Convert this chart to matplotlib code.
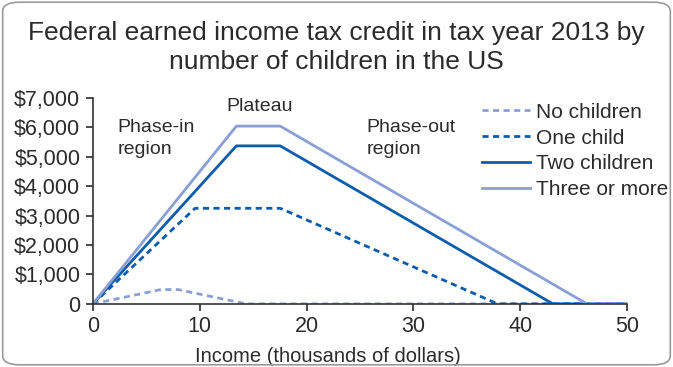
import matplotlib.pyplot as plt
from matplotlib.patches import FancyBboxPatch

plt.rcParams['font.family'] = ['Liberation Sans Narrow', 'Liberation Sans', 'DejaVu Sans']

# Datos (ingresos en miles de dólares, crédito en dólares)
x_none = [0, 6.37, 7.97, 14.34, 50]
y_none = [0, 487, 487, 0, 0]
x_one = [0, 9.56, 17.53, 37.87, 50]
y_one = [0, 3250, 3250, 0, 0]
x_two = [0, 13.43, 17.53, 43.04, 50]
y_two = [0, 5372, 5372, 0, 0]
x_three = [0, 13.43, 17.53, 46.23, 50]
y_three = [0, 6044, 6044, 0, 0]

yticks = [0, 1000, 2000, 3000, 4000, 5000, 6000, 7000]
ylabels = ["0", "$1,000", "$2,000", "$3,000", "$4,000", "$5,000", "$6,000", "$7,000"]
xticks = [0, 10, 20, 30, 40, 50]

light = "#8a9fd4"
dark = "#0b5cad"
text_c = "#2b2b2b"

fig = plt.figure(figsize=(6.73, 3.67), dpi=100)
ax = fig.add_axes([0.138, 0.172, 0.794, 0.561])

ax.plot(x_none, y_none, color=light, lw=2, ls=(0, (2.2, 1.6)), label="No children")
ax.plot(x_one, y_one, color=dark, lw=2, ls=(0, (2.2, 1.6)), label="One child")
ax.plot(x_two, y_two, color=dark, lw=2, label="Two children")
ax.plot(x_three, y_three, color=light, lw=2, label="Three or more")

ax.set_xlim(0, 50)
ax.set_ylim(0, 7000)
ax.set_xticks(xticks)
ax.set_yticks(yticks)
ax.set_yticklabels(ylabels)
ax.tick_params(labelsize=15.5, colors=text_c, length=5, width=1.2, pad=4)
for s in ["top", "right"]:
    ax.spines[s].set_visible(False)
for s in ["left", "bottom"]:
    ax.spines[s].set_color("#333333")
    ax.spines[s].set_linewidth(1.2)
ax.patch.set_alpha(0)

ax.set_xlabel("Income (thousands of dollars)", fontsize=14.5, color=text_c, labelpad=1)
ax.xaxis.set_label_coords(0.44, -0.21)

ax.text(2.3, 5630, "Phase-in\nregion", fontsize=14, color=text_c, va="center", linespacing=1.35)
ax.text(12.5, 6700, "Plateau", fontsize=14, color=text_c, va="center")
ax.text(25.6, 5630, "Phase-out\nregion", fontsize=14, color=text_c, va="center", linespacing=1.35)

ax.legend(loc="upper left", bbox_to_anchor=(0.728, 0.977), frameon=False, fontsize=15,
          borderpad=0, borderaxespad=0,
          handlelength=2.3, handletextpad=0.29, labelspacing=0.33, labelcolor=text_c)

fig.text(0.5, 0.87, "Federal earned income tax credit in tax year 2013 by\nnumber of children in the US",
         ha="center", va="center", fontsize=19, color=text_c, linespacing=1.25)

fig.patches.append(FancyBboxPatch((0.004, 0.006), 0.992, 0.988, boxstyle="round,pad=0,rounding_size=0.025",
                                  transform=fig.transFigure, fill=False, ec="#9a9a9a", lw=1.2))

fig.savefig("out.png", dpi=100)
